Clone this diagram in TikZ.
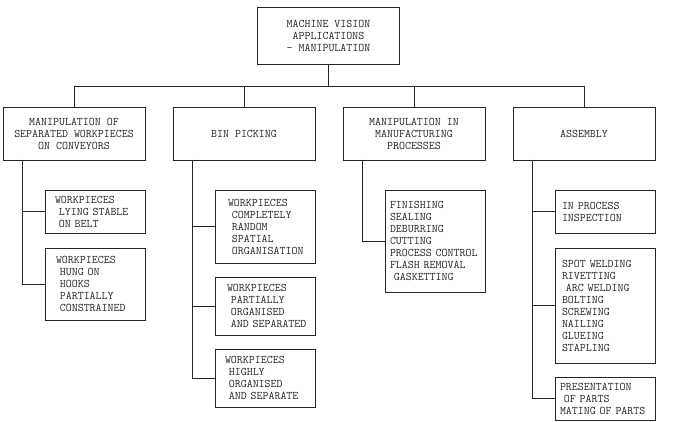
\documentclass[tikz,border=0pt]{standalone}
\usetikzlibrary{positioning}

\begin{document}
\begin{tikzpicture}[x=1pt,y=-1pt,line width=0.9pt,
                    every node/.style={font=\ttfamily\fontsize{11.6}{12}\selectfont,
                                       text=black!85},
                    frame/.style={draw=black!85,outer sep=0pt},
                    headbox/.style={frame,align=center,minimum width=142,minimum height=57},
                    groupbox/.style={frame,align=center,minimum width=142,minimum height=53},
                    itembox/.style 2 args={frame,align=left,inner xsep=0pt,minimum width=100,
                                           minimum height=#1,text width=#2}]

  \useasboundingbox (0,0) rectangle (675,422);

  \node[headbox]  (vision)   at (328.5,35.5) {MACHINE VISION\\APPLICATIONS\\- MANIPULATION};
  \node[groupbox] (conveyor) at (74,133.5)   {MANIPULATION OF\\SEPARATED WORKPIECES\\ON CONVEYORS};
  \node[groupbox] (bin)      [right=28pt of conveyor] {BIN PICKING};
  \node[groupbox] (process)  [right=28pt of bin]      {MANIPULATION IN\\MANUFACTURING\\PROCESSES};
  \node[groupbox] (assembly) [right=28pt of process]  {ASSEMBLY};

  % second level, hung below the right edge of each group
  \node[itembox={43}{80}]  (stable)    [below=30pt of conveyor.south east,anchor=north east]
        {WORKPIECES\\~LYING~STABLE\\~ON~BELT};
  \node[itembox={72}{78}]  (hooks)     [below=15pt of stable]
        {WORKPIECES\\~HUNG~ON\\~HOOKS\\~PARTIALLY\\~CONSTRAINED};
  \node[itembox={73}{74}]  (random)    [below=30pt of bin.south east,anchor=north east]
        {WORKPIECES\\~COMPLETELY\\~RANDOM\\~SPATIAL\\~ORGANISATION};
  \node[itembox={58}{76}]  (partial)   [below=14pt of random]
        {WORKPIECES\\~PARTIALLY\\~ORGANISED\\~AND~SEPARATED};
  \node[itembox={58}{80}]  (ordered)   [below=14pt of partial]
        {WORKPIECES\\~HIGHLY\\~ORGANISED\\~AND~SEPARATE};
  \node[itembox={102}{90}] (finishing) [below=30pt of process.south east,anchor=north east]
        {FINISHING\\SEALING\\DEBURRING\\CUTTING\\PROCESS~CONTROL\\FLASH~REMOVAL\\~GASKETTING};
  \node[itembox={43}{86}]  (inspect)   [below=30pt of assembly.south east,anchor=north east]
        {IN~PROCESS\\INSPECTION};
  \node[itembox={115}{86}] (joining)   [below=15pt of inspect]
        {SPOT~WELDING\\RIVETTING\\~ARC~WELDING\\BOLTING\\SCREWING\\NAILING\\GLUEING\\STAPLING};
  \node[itembox={43}{90}]  (mating)    [below=14pt of joining]
        {PRESENTATION\\~OF~PARTS\\MATING~OF~PARTS};

  % bus from the head box to the groups
  \draw[black!85] (vision.south) -- ++(0,22) coordinate (bus) -| (conveyor.north);
  \draw[black!85] (bus) -| (assembly.north);
  \draw[black!85] (bin.north) -- (bin.north |- bus);
  \draw[black!85] (process.north) -- (process.north |- bus);

  % spines down the left of each group
  \foreach \grp/\leaf in {conveyor/stable,conveyor/hooks,bin/random,bin/partial,bin/ordered,
                          process/finishing,assembly/inspect,assembly/joining,assembly/mating}
    \draw[black!85] ([xshift=19pt]\grp.south west) |- (\leaf.west);
\end{tikzpicture}
\end{document}
